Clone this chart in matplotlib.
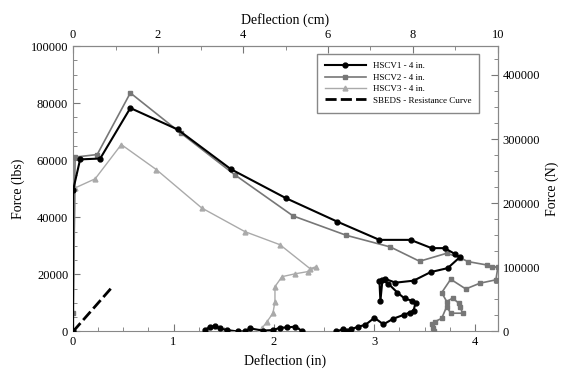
import numpy as np
import matplotlib
matplotlib.use('Agg')
import matplotlib.pyplot as plt

plt.rcParams['font.family'] = ['Liberation Serif', 'DejaVu Serif']

# deflection (in) / force (lbs) for each test; nan breaks the line
hscv1_x = [0.0, 0.0, 0.07, 0.27, 0.57, 1.04, 1.57, 2.12, 2.63, 3.05, 3.36, 3.57, 3.70, 3.80, 3.85,
           3.73, 3.56, 3.39, 3.21, 3.11, 3.05, 3.06, 3.08, 3.14, 3.23, 3.30, 3.37, 3.41, 3.39, 3.35,
           3.29, 3.19, 3.09, 3.00, 2.91, 2.84, 2.77, 2.73, 2.69, 2.62, np.nan,
           2.28, 2.21, 2.13, 2.06, 1.99, 1.89, 1.76, 1.71, 1.64, 1.53, 1.46, 1.41, 1.36, 1.31]
hscv1_f = [0, 49500, 60300, 60600, 78300, 70800, 56900, 46700, 38500, 32100, 32100, 29200, 29200, 27200, 26000,
           22200, 20800, 17800, 17100, 18400, 17800, 10700, 18000, 16700, 13600, 11600, 10800, 10100, 7300, 6600,
           5800, 4500, 2500, 4800, 2300, 1700, 800, 0, 800, 0, np.nan,
           200, 1700, 1400, 1300, 500, 300, 1100, 0, 0, 500, 1100, 1900, 1500, 500]

hscv2_x = [0.0, 0.0, 0.02, 0.24, 0.57, 1.07, 1.61, 2.19, 2.72, 3.16, 3.45, 3.72, 3.85, 3.93, 4.12,
           4.17, 4.23, 4.21, 4.05, 3.91, 3.76, 3.67, 3.72, 3.78, 3.84, 3.85, 3.88, 3.76, 3.72, 3.67,
           3.60, 3.57, 3.58, 3.59]
hscv2_f = [0, 6600, 61100, 62000, 83600, 69600, 54900, 40500, 33700, 29600, 24600, 27400, 25900, 24500, 23300,
           22500, 22700, 18100, 16900, 14900, 18300, 13600, 10500, 11700, 9900, 8700, 6400, 6400, 8700, 4600,
           3400, 2500, 1100, 0]

hscv3_x = [0.0, 0.02, 0.22, 0.48, 0.83, 1.28, 1.71, 2.06, 2.36, 2.42, 2.34, 2.21, 2.08, 2.01, 2.01,
           1.99, 1.93, 1.88, 1.85]
hscv3_f = [0, 50300, 53500, 65500, 56700, 43300, 35000, 30400, 22000, 22700, 21000, 20200, 19200, 15700, 10500,
           6400, 3400, 1100, 0]

sbeds_x = [0.0, 0.40]
sbeds_f = [0, 16000]

x_max_in = 4.23
f_max_lbs = 100000
lbs_to_n = 4.44822

fig = plt.figure(figsize=(5.71, 3.81), dpi=100)
ax = fig.add_axes([0.128, 0.130, 0.744, 0.749])

ax.plot(hscv1_x, hscv1_f, color='black', lw=1.5, marker='o', ms=3.5, label='HSCV1 - 4 in.', zorder=5)
ax.plot(hscv2_x, hscv2_f, color='#777777', lw=1.2, marker='s', ms=3.5, label='HSCV2 - 4 in.', zorder=4)
ax.plot(hscv3_x, hscv3_f, color='#aaaaaa', lw=1.0, marker='^', ms=3.5, label='HSCV3 - 4 in.', zorder=3)
ax.plot(sbeds_x, sbeds_f, color='black', lw=2.0, ls=(0, (4, 1.5)), label='SBEDS - Resistance Curve', zorder=6)

ax.set_xlim(0, x_max_in)
ax.set_ylim(0, f_max_lbs)
ax.set_xticks([0, 1, 2, 3, 4])
ax.set_xticks(np.arange(0, 4.25, 0.25), minor=True)
ax.set_yticks(np.arange(0, 100001, 20000))
ax.set_yticks(np.arange(0, 100001, 5000), minor=True)
ax.set_xlabel('Deflection (in)', fontsize=10)
ax.set_ylabel('Force (lbs)', fontsize=10)

top = ax.secondary_xaxis('top', functions=(lambda x: x * 10 / x_max_in, lambda c: c * x_max_in / 10))
top.set_xticks([0, 2, 4, 6, 8, 10])
top.set_xticks(np.arange(0, 10.1, 1), minor=True)
top.set_xlabel('Deflection (cm)', fontsize=10)

right = ax.secondary_yaxis('right', functions=(lambda f: f * lbs_to_n, lambda n: n / lbs_to_n))
right.set_yticks(np.arange(0, 400001, 100000))
right.set_yticks(np.arange(0, 440001, 25000), minor=True)
right.set_ylabel('Force (N)', fontsize=10)

for a in (ax, top, right):
    a.tick_params(which='both', direction='in', color='#777777', labelsize=9)
    a.tick_params(which='major', length=5)
    a.tick_params(which='minor', length=3)
for sp in ax.spines.values():
    sp.set_color('#888888')
top.spines['top'].set_color('#888888')
right.spines['right'].set_color('#888888')

leg = ax.legend(loc='upper right', bbox_to_anchor=(0.967, 0.989), fontsize=6.5, handlelength=4.5,
                fancybox=False, edgecolor='#888888', framealpha=1, borderpad=0.9, labelspacing=0.35)
leg.get_frame().set_linewidth(1.0)

fig.savefig('out.png', dpi=100)
